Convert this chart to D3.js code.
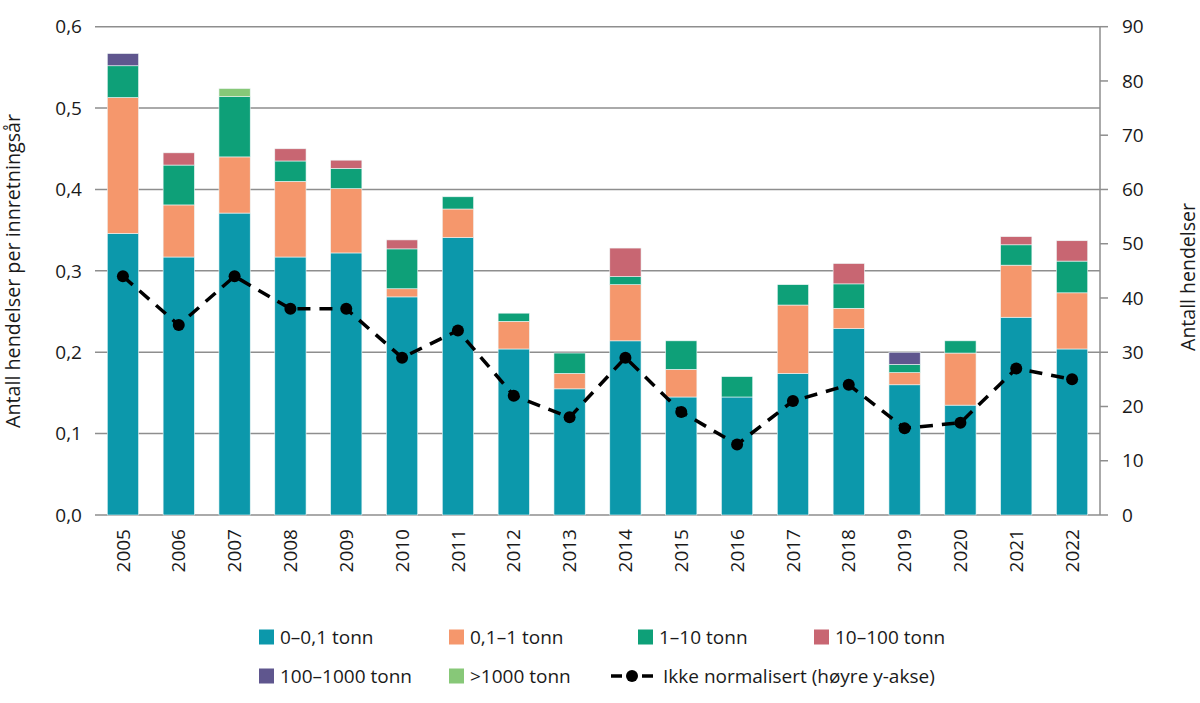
<!DOCTYPE html>
<html><head><meta charset="utf-8">
<script src="https://cdn.jsdelivr.net/npm/d3@7"></script>
<style>body{margin:0;background:#fff}svg{display:block;font-family:"Open Sans",sans-serif}</style>
</head><body>
<svg id="c" width="1200" height="703"></svg>
<script>
const years = ["2005","2006","2007","2008","2009","2010","2011","2012","2013","2014","2015","2016","2017","2018","2019","2020","2021","2022"];
const s0_01   = [0.346,0.317,0.371,0.317,0.322,0.268,0.341,0.204,0.155,0.214,0.145,0.145,0.174,0.229,0.160,0.135,0.243,0.204];
const s01_1   = [0.167,0.064,0.069,0.093,0.079,0.010,0.035,0.034,0.019,0.069,0.034,0.000,0.084,0.025,0.015,0.064,0.064,0.069];
const s1_10   = [0.039,0.049,0.074,0.025,0.025,0.049,0.015,0.010,0.025,0.010,0.035,0.025,0.025,0.030,0.010,0.015,0.025,0.039];
const s10_100 = [0.000,0.015,0.000,0.015,0.010,0.011,0.000,0.000,0.000,0.035,0.000,0.000,0.000,0.025,0.000,0.000,0.010,0.025];
const s100_1000=[0.015,0.000,0.000,0.000,0.000,0.000,0.000,0.000,0.000,0.000,0.000,0.000,0.000,0.000,0.015,0.000,0.000,0.000];
const s1000   = [0.000,0.000,0.010,0.000,0.000,0.000,0.000,0.000,0.000,0.000,0.000,0.000,0.000,0.000,0.000,0.000,0.000,0.000];
const counts  = [44,35,44,38,38,29,34,22,18,29,19,13,21,24,16,17,27,25];
const seriesNames = ["0–0,1 tonn","0,1–1 tonn","1–10 tonn","10–100 tonn","100–1000 tonn",">1000 tonn"];
const seriesColors = ["#0c98ab","#f5976c","#0ea078","#c86672","#5f568e","#87c878"];
const leftTicks = [0,0.1,0.2,0.3,0.4,0.5,0.6];
const rightTicks = [0,10,20,30,40,50,60,70,80,90];
const lineLabel = "Ikke normalisert (høyre y-akse)";
const leftTitle = "Antall hendelser per innretningsår";
const rightTitle = "Antall hendelser";

const seriesData = [s0_01,s01_1,s1_10,s10_100,s100_1000,s1000];
const rows = years.map((y,i)=>{const o={year:y}; seriesData.forEach((s,k)=>o["k"+k]=s[i]); return o;});
const keys = seriesData.map((_,k)=>"k"+k);
const stacked = d3.stack().keys(keys)(rows);

const svg = d3.select("#c");
const L=95,R=1100,T=26.7,B=515;
const x = d3.scaleBand().domain(years).range([L,R]).paddingInner(0.44).paddingOuter(0.22);
const y = d3.scaleLinear().domain([0,0.6]).range([B,T]);
const y2 = d3.scaleLinear().domain([0,90]).range([B,T]);
const txt="#1a1a1a", grid="#8e8e8e";
const fmt = d3.format(".1f");
const FS = 19;

// grid
svg.append("g").selectAll("line").data(leftTicks).join("line")
  .attr("x1",L).attr("x2",R).attr("y1",d=>y(d)).attr("y2",d=>y(d))
  .attr("stroke",grid).attr("stroke-width",1.5);
// left labels
svg.append("g").selectAll("text").data(leftTicks).join("text")
  .attr("x",82).attr("y",d=>y(d)).attr("dy","0.35em").attr("text-anchor","end")
  .attr("font-size",FS).attr("fill",txt).text(d=>fmt(d).replace(".",","));

// bars
svg.append("g").selectAll("g").data(stacked).join("g")
  .attr("fill",(d,i)=>seriesColors[i])
  .selectAll("rect").data(d=>d.filter(p=>p[1]-p[0]>0)).join("rect")
  .attr("x",d=>x(d.data.year)).attr("width",x.bandwidth())
  .attr("y",d=>y(d[1])).attr("height",d=>y(d[0])-y(d[1]))
  .attr("stroke","#eef6f6").attr("stroke-width",0.6);

// right axis
const ra = svg.append("g").attr("transform",`translate(${R},0)`);
ra.append("line").attr("x1",0).attr("x2",0).attr("y1",T).attr("y2",B).attr("stroke",grid).attr("stroke-width",1.5);
ra.selectAll("line.t").data(rightTicks).join("line").attr("class","t")
  .attr("x1",0).attr("x2",8).attr("y1",d=>y2(d)).attr("y2",d=>y2(d)).attr("stroke",grid).attr("stroke-width",1.5);
ra.selectAll("text").data(rightTicks).join("text")
  .attr("x",22).attr("y",d=>y2(d)).attr("dy","0.35em").attr("font-size",FS).attr("fill",txt).text(d=>d);

// x labels
svg.append("g").selectAll("text").data(years).join("text")
  .attr("transform",d=>`translate(${x(d)+x.bandwidth()/2},529) rotate(-90)`)
  .attr("text-anchor","end").attr("dy","0.35em").attr("font-size",FS).attr("fill",txt).text(d=>d);

// line
const line = d3.line().x((d,i)=>x(years[i])+x.bandwidth()/2).y(d=>y2(d));
svg.append("path").datum(counts).attr("d",line).attr("fill","none")
  .attr("stroke","#000").attr("stroke-width",3.5).attr("stroke-dasharray","13,9");
svg.append("g").selectAll("circle").data(counts).join("circle")
  .attr("cx",(d,i)=>x(years[i])+x.bandwidth()/2).attr("cy",d=>y2(d)).attr("r",6).attr("fill","#000");

// titles
svg.append("text").attr("transform",`translate(13,271) rotate(-90)`).attr("text-anchor","middle")
  .attr("dy","0.35em").attr("font-size",19.7).attr("fill",txt).text(leftTitle);
svg.append("text").attr("transform",`translate(1188,277) rotate(-90)`).attr("text-anchor","middle")
  .attr("dy","0.35em").attr("font-size",19.5).attr("fill",txt).text(rightTitle);

// legend
const legPos = [[259,637],[449,637],[638,637],[814,637],[259,676],[449,676]];
const lg = svg.append("g");
seriesNames.forEach((n,i)=>{
  const [lx,ly]=legPos[i];
  lg.append("rect").attr("x",lx).attr("y",ly-7.5).attr("width",15).attr("height",15).attr("fill",seriesColors[i]);
  lg.append("text").attr("x",lx+21).attr("y",ly).attr("dy","0.35em").attr("font-size",FS).attr("fill",txt).text(n);
});
lg.append("line").attr("x1",611).attr("x2",653).attr("y1",676).attr("y2",676).attr("stroke","#000").attr("stroke-width",3.5).attr("stroke-dasharray","11,20");
lg.append("circle").attr("cx",632).attr("cy",676).attr("r",6).attr("fill","#000");
lg.append("text").attr("x",663).attr("y",676).attr("dy","0.35em").attr("font-size",FS).attr("fill",txt).text(lineLabel);
</script>
</body></html>
